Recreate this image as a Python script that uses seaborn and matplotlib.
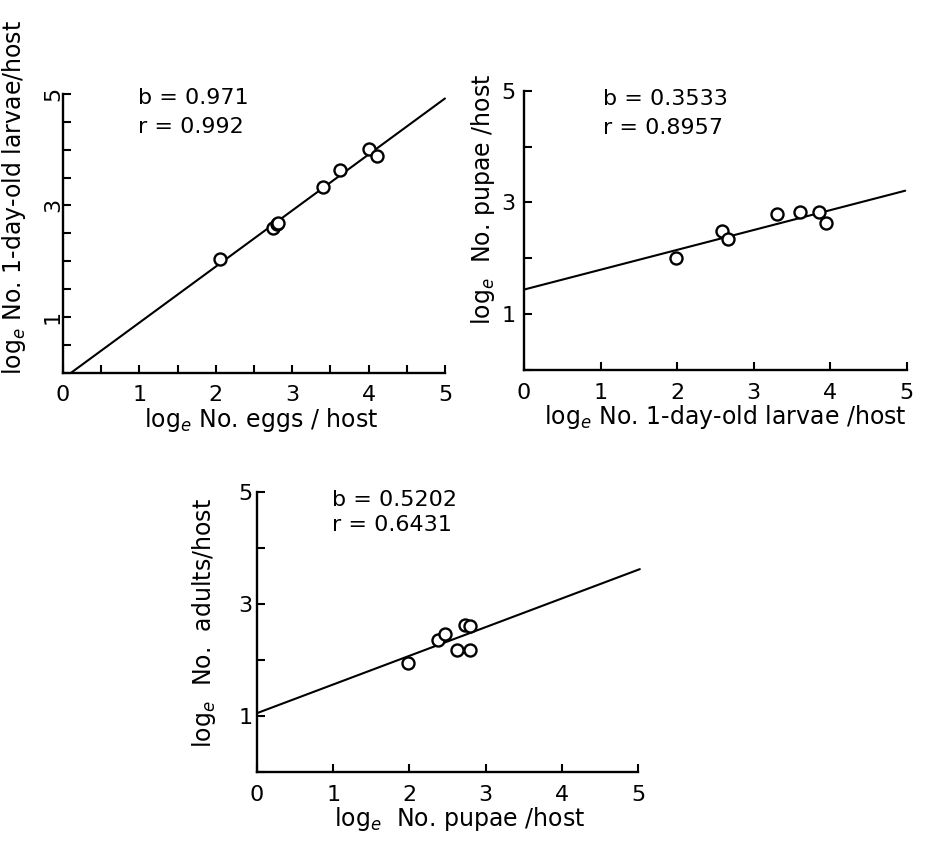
import numpy as np
import matplotlib
matplotlib.use('Agg')
import matplotlib.pyplot as plt
import seaborn as sb

# basic style
sb.set_style('ticks')
plt.rcParams['font.family'] = ['DejaVu Sans']
plt.rcParams['mathtext.fontset'] = 'dejavusans'
plt.rcParams['text.color'] = 'black'
plt.rcParams['axes.labelcolor'] = 'black'

# panel 1: eggs -> 1-day-old larvae
eggs = [2.05, 2.75, 2.80, 2.82, 3.40, 3.62, 4.00, 4.11]
larvae_a = [2.04, 2.59, 2.66, 2.69, 3.33, 3.64, 4.01, 3.89]
fit1_x = [0.11, 5.0]
fit1_y = [0.0, 4.92]

# panel 2: larvae -> pupae
larvae_b = [1.99, 2.59, 2.67, 3.31, 3.61, 3.86, 3.95]
pupae_a = [2.00, 2.49, 2.34, 2.80, 2.82, 2.82, 2.64]
fit2_x = [0.0, 4.98]
fit2_y = [1.44, 3.21]

# panel 3: pupae -> adults
pupae_b = [1.98, 2.38, 2.47, 2.62, 2.73, 2.79, 2.79]
adults = [1.95, 2.35, 2.47, 2.17, 2.63, 2.61, 2.18]
fit3_x = [0.0, 5.02]
fit3_y = [1.05, 3.62]

# ticks
ticks_half = [0, 0.5, 1, 1.5, 2, 2.5, 3, 3.5, 4, 4.5, 5]
xlab_half = ['0', '', '1', '', '2', '', '3', '', '4', '', '5']
ylab_half = ['', '', '1', '', '', '', '3', '', '', '', '5']
ticks_int = [0, 1, 2, 3, 4, 5]
xlab_int = ['0', '1', '2', '3', '4', '5']
ylab_int = ['', '1', '', '3', '', '5']

stats = [('b = 0.971', 'r = 0.992'), ('b = 0.3533', 'r = 0.8957'), ('b = 0.5202', 'r = 0.6431')]

fig = plt.figure(figsize=(9.26, 8.44), dpi=100)


def panel(rect, x, y, fx, fy, xlabel, ylabel, txt, txt_pos, xticks, xlabs, yticks, ylabs,
          xlab_pos, ylab_pos, ypad, yrot=0):
    ax = fig.add_axes(rect)
    sb.lineplot(x=fx, y=fy, ax=ax, color='black', lw=1.5, clip_on=False)
    sb.scatterplot(x=x, y=y, ax=ax, marker='o', s=75, facecolor='white',
                   edgecolor='black', linewidth=1.7, zorder=3, clip_on=False)
    ax.set_xlim(0, 5)
    ax.set_ylim(0, 5)
    ax.set_xticks(xticks)
    ax.set_xticklabels(xlabs)
    ax.set_yticks(yticks)
    ax.set_yticklabels(ylabs)
    sb.despine(ax=ax)
    for s in ['left', 'bottom']:
        ax.spines[s].set_linewidth(1.7)
        ax.spines[s].set_color('black')
    ax.tick_params(axis='both', direction='in', length=5.5, width=1.5, labelsize=16,
                   colors='black')
    ax.tick_params(axis='x', pad=9)
    ax.tick_params(axis='y', pad=ypad, labelrotation=yrot)
    if yrot:
        for t in ax.get_yticklabels():
            t.set_va('center')
    ax.set_xlabel(xlabel, fontsize=17, va='center')
    ax.set_ylabel(ylabel, fontsize=17, va='center')
    ax.xaxis.set_label_coords(*xlab_pos)
    ax.yaxis.set_label_coords(*ylab_pos)
    ax.text(txt_pos[0], txt_pos[1], txt[0], fontsize=16, va='center')
    ax.text(txt_pos[0], txt_pos[2], txt[1], fontsize=16, va='center')
    return ax


panel([0.068, 0.5586, 0.4125, 0.330], eggs, larvae_a, fit1_x, fit1_y,
      'log$_e$ No. eggs / host', 'log$_e$ No. 1-day-old larvae/host',
      stats[0], (0.98, 4.93, 4.40), ticks_half, xlab_half, ticks_half, ylab_half,
      (0.518, -0.171), (-0.128, 0.63), 0, yrot=90)

panel([0.5659, 0.5616, 0.4133, 0.3309], larvae_b, pupae_a, fit2_x, fit2_y,
      'log$_e$ No. 1-day-old larvae /host', 'log$_e$  No. pupae /host',
      stats[1], (1.03, 4.86, 4.34), ticks_int, xlab_int, ticks_int, ylab_int,
      (0.525, -0.168), (-0.107, 0.61), 6)

panel([0.2775, 0.0853, 0.4118, 0.332], pupae_b, adults, fit3_x, fit3_y,
      'log$_e$  No. pupae /host', 'log$_e$  No.  adults/host',
      stats[2], (0.98, 4.86, 4.40), ticks_int, xlab_int, ticks_int, ylab_int,
      (0.532, -0.168), (-0.139, 0.533), 3)

plt.savefig('out.png', dpi=100)
